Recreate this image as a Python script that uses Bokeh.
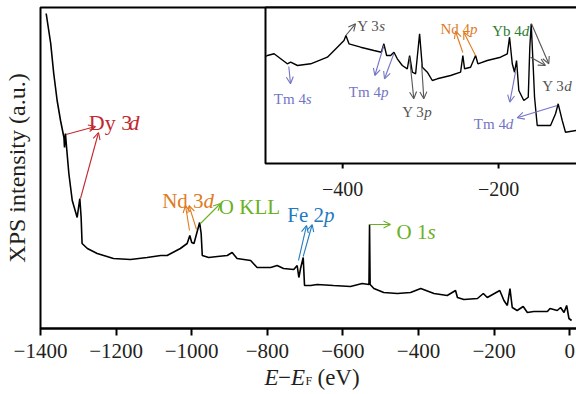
from bokeh.plotting import figure
from bokeh.models import Range1d, FixedTicker, Label, Arrow, OpenHead
from bokeh.core.properties import value
from bokeh.embed import file_html
from bokeh.resources import INLINE

# ---------------- data ----------------
# main survey spectrum: binding energy E-EF (eV) and intensity (a.u.)
main_ev = [-1385, -1373, -1365, -1356, -1347, -1338, -1336.5, -1334, -1331, -1325,
           -1316, -1303, -1296, -1292.5, -1290, -1276, -1250, -1207, -1162, -1118,
           -1082, -1065, -1030, -1012, -1005, -1000, -994, -979, -975, -972,
           -955, -932, -906, -893, -880, -844, -827, -791, -774, -757,
           -730, -721, -716.5, -712, -705, -701.5, -685, -668, -625, -580,
           -549, -531, -529.5, -528, -518, -492, -456, -421, -394, -359,
           -324, -302, -297, -280, -244, -228.5, -218, -185, -174, -165,
           -158, -152, -139, -123, -112, -95, -59, -52, -33, -24,
           -15, -8, -2, 5]
main_int = [315, 285, 255, 228, 208, 191, 181, 195, 181, 155,
            128, 111, 130, 111, 85, 80, 75, 70, 69, 71,
            73, 73, 80, 85, 93, 86, 85, 106, 95, 73,
            71, 72, 73, 76, 70, 68, 61, 61, 63, 60,
            59, 63, 51, 60, 71, 43, 43, 44, 43, 42,
            45, 44, 104, 44, 40, 36, 35, 36, 40, 35,
            33, 38, 31, 29, 30, 35, 31, 38, 28, 23,
            40, 21, 18, 22, 16, 17, 17, 20, 18, 21,
            16, 23, 10, 8]

# inset (zoom on -500 ... -100 eV)
inset_ev = [-499, -496.5, -488, -479.5, -471, -466.7, -458, -441, -419.6, -406.8,
            -398.3, -395.8, -391.9, -376.9, -359.9, -350.4, -347.1, -343.6, -338.5, -334.2,
            -329.9, -323.5, -317.1, -314.1, -310.6, -306.4, -301.3, -297.8, -291.4, -285,
            -278.6, -261.5, -248.7, -245.8, -243.6, -235.9, -229.5, -226.5, -214.5, -197.4,
            -188.8, -185.9, -182.4, -179.5, -176.9, -174, -167.6, -161.9, -159.9, -158.1,
            -155.5, -153.8, -150.4, -133.3, -126.9, -123.5, -118.3, -114.1, -100]
inset_int = [107, 108, 109.7, 104.7, 99.7, 101.3, 98, 99.7, 106.3, 116.3,
             123, 128, 119.7, 116.3, 113, 111.3, 119.7, 108, 108, 111.3,
             104.7, 98, 94.7, 108, 91.3, 89.7, 129.7, 96.3, 91.3, 83,
             84.7, 88, 91.3, 108, 94.7, 96.3, 108, 99.7, 103, 106.3,
             109.7, 126.3, 99.7, 91.3, 103, 73, 63, 66.3, 116.3, 139.7,
             96.3, 66.3, 38, 38, 49.7, 59.7, 43, 31.3, 33]

main_ticks = [-1400, -1200, -1000, -800, -600, -400, -200, 0]
main_tick_labels = ["\u22121400", "\u22121200", "\u22121000", "\u2212800",
                    "\u2212600", "\u2212400", "\u2212200", "0"]
inset_ticks = [-400, -200]
inset_tick_labels = ["\u2212400", "\u2212200"]

# ---------------- layout constants ----------------
W, H = 576, 394
PL, PT = 40, 7            # plot box left / top (px)
PB = 328                  # plot box bottom (px) = x-axis position
X0, X1 = -1400, 18        # data x at px 40 and px 576
Y0, Y1 = 0, 321           # data y at px 328 and px 7
CT = 5                    # canvas frame top (px)
IL, IT, IB = 265, 7, 163  # inset box (px)
IX0, IX1 = -499, -100     # inset x limits (eV) at px 265 and px 576
IY0, IY1 = 0, IB - IT

SERIF = "Liberation Serif"
DY = "#c1272d"
ND = "#e07b1f"
OG = "#6ab023"
FE = "#1f7bbf"
TM = "#7474c4"
YG = "#555555"
YB = "#2e7d32"
XT = "#231f20"

def mx(px):
    return X0 + (px - PL) * (X1 - X0) / (W - PL)

def my(py):
    return Y0 + (PB - py) * (Y1 - Y0) / (PB - PT)

kx = (W - IL) / (IX1 - IX0)   # px per eV in the inset

def ix(px):
    return IX0 + (px - IL) / kx

def iy(py):
    return IB - py

p = figure(width=W, height=H, output_backend="svg", toolbar_location=None,
           x_range=Range1d(mx(0), mx(W)), y_range=Range1d(my(H), my(CT)),
           min_border_left=0, min_border_right=0,
           min_border_top=CT, min_border_bottom=0)
p.extra_x_ranges = {"ix": Range1d(ix(0), ix(W))}
p.extra_y_ranges = {"iy": Range1d(iy(H), iy(CT))}

p.xgrid.visible = False
p.ygrid.visible = False
p.yaxis.visible = False
p.outline_line_color = None
p.background_fill_color = "white"
p.border_fill_color = "white"

xa = p.xaxis[0]
xa.fixed_location = Y0
xa.bounds = (X0, X1)
xa.ticker = FixedTicker(ticks=main_ticks)
xa.major_label_overrides = {t: s for t, s in zip(main_ticks, main_tick_labels)}
xa.major_tick_in = 0
xa.major_tick_out = 7
xa.major_tick_line_width = 2
xa.minor_tick_line_color = None
xa.axis_line_width = 2
xa.major_label_text_font = SERIF
xa.major_label_text_font_size = "21px"
xa.major_label_text_color = XT
xa.major_label_standoff = 8

# main spectrum and plot box
p.line(main_ev, main_int, line_color="black", line_width=1.6)
p.quad(left=X0, right=X1 + 10, bottom=Y0, top=Y1, fill_color=None,
       line_color="black", line_width=2)

# inset box, spectrum, ticks
p.quad(left=IX0, right=IX1 + 5, bottom=IY0, top=IY1, fill_color="white",
       line_color="black", line_width=2, x_range_name="ix", y_range_name="iy")
p.line(inset_ev, inset_int, line_color="black", line_width=1.4,
       x_range_name="ix", y_range_name="iy")
p.segment(x0=inset_ticks, y0=[IY0] * len(inset_ticks), x1=inset_ticks,
          y1=[IY0 - 5] * len(inset_ticks), line_color="black", line_width=2,
          x_range_name="ix", y_range_name="iy")
p.text(x=inset_ticks, y=[iy(188.5)] * len(inset_ticks), text=inset_tick_labels,
       text_font=value(SERIF), text_font_size="20px", text_color=XT,
       text_align="center", text_baseline="alphabetic",
       x_range_name="ix", y_range_name="iy")


def label(x, y, text, color, size, italic=False, rn=None, angle=0, align="left"):
    kw = {}
    if rn:
        kw = dict(x_range_name="ix", y_range_name="iy")
    p.add_layout(Label(x=x, y=y, text=text, text_color=color, text_font=SERIF,
                       text_font_size=size, text_align=align,
                       text_baseline="alphabetic", angle=angle, angle_units="deg",
                       text_font_style="italic" if italic else "normal", **kw))


def arrow(x0, y0, x1, y1, color, rn=None):
    kw = {}
    if rn:
        kw = dict(x_range_name="ix", y_range_name="iy")
    p.add_layout(Arrow(x_start=x0, y_start=y0, x_end=x1, y_end=y1,
                       line_color=color, line_width=1.1,
                       end=OpenHead(size=7, line_color=color, line_width=1.1), **kw))


# main annotations (pixel positions converted to data)
M = "21px"
label(mx(88.3), my(121.7), "Dy 3", DY, "22px")
label(mx(128), my(121.7), "d", DY, "22px", italic=True)
arrow(mx(65.5), my(134), mx(95), my(126), DY)
arrow(mx(80), my(198), mx(98), my(132), DY)

label(mx(161.7), my(200), "Nd 3", ND, M)
label(mx(203), my(200), "d", ND, M, italic=True)
arrow(mx(189), my(230), mx(185), my(205), ND)
arrow(mx(196), my(229), mx(188.5), my(205), ND)

label(mx(218.3), my(206.7), "O KLL", OG, M)
arrow(mx(200), my(223), mx(220), my(203), OG)

label(mx(286.7), my(214), "Fe 2", FE, M)
label(mx(323.5), my(214), "p", FE, M, italic=True)
arrow(mx(298), my(260), mx(306), my(225), FE)
arrow(mx(302.7), my(256), mx(311.7), my(224), FE)

label(mx(396), my(231.7), "O 1", OG, M)
label(mx(427), my(231.7), "s", OG, M, italic=True)
arrow(mx(369), my(224), mx(390), my(224), OG)

# inset annotations
S = "15px"
label(ix(356.7), iy(25), "Y 3", YG, S, rn=1)
label(ix(378.7), iy(25), "s", YG, S, italic=True, rn=1)
arrow(ix(345.3), iy(35), ix(355), iy(23.3), YG, rn=1)

label(ix(273.3), iy(98.3), "Tm 4", TM, S, rn=1)
label(ix(305.3), iy(98.3), "s", TM, S, italic=True, rn=1)
arrow(ix(288.3), iy(66), ix(290), iy(83.3), TM, rn=1)

label(ix(348.3), iy(91.7), "Tm 4", TM, S, rn=1)
label(ix(380.4), iy(91.7), "p", TM, S, italic=True, rn=1)
arrow(ix(383.3), iy(45), ix(374.3), iy(75), TM, rn=1)
arrow(ix(393.3), iy(53.3), ix(384), iy(78.3), TM, rn=1)

label(ix(401.7), iy(111.7), "Y 3", YG, S, rn=1)
label(ix(423.7), iy(111.7), "p", YG, S, italic=True, rn=1)
arrow(ix(409), iy(57), ix(413.3), iy(98.3), YG, rn=1)
arrow(ix(421), iy(62), ix(423.3), iy(98.3), YG, rn=1)

label(ix(440), iy(28.3), "Nd 4", ND, S, rn=1)
label(ix(469.6), iy(28.3), "p", ND, S, italic=True, rn=1)
arrow(ix(462.3), iy(52), ix(455), iy(30.7), ND, rn=1)
arrow(ix(475), iy(55), ix(463.3), iy(31.7), ND, rn=1)

label(ix(491.7), iy(30), "Yb 4", YB, S, rn=1)
label(ix(521.3), iy(30), "d", YB, S, italic=True, rn=1)

label(ix(541.7), iy(85), "Y 3", YG, S, rn=1)
label(ix(563.7), iy(85), "d", YG, S, italic=True, rn=1)
arrow(ix(531), iy(23.3), ix(548.3), iy(63.3), YG, rn=1)
arrow(ix(530), iy(56.7), ix(545), iy(65), YG, rn=1)

label(ix(473.3), iy(123.3), "Tm 4", TM, S, rn=1)
label(ix(505.3), iy(123.3), "d", TM, S, italic=True, rn=1)
arrow(ix(515), iy(71.7), ix(509.3), iy(101.7), TM, rn=1)
arrow(ix(556.7), iy(105), ix(516.7), iy(117.3), TM, rn=1)

# axis titles
label(mx(264), my(377), "E", XT, "23px", italic=True)
label(mx(277.5), my(377), "\u2212", XT, "23px")
label(mx(290.5), my(377), "E", XT, "23px", italic=True)
label(mx(305), my(380), "F", XT, "12px")
label(mx(317), my(377), "(eV)", XT, "23px")
label(mx(16), my(167.5), "XPS intensity (a.u.)", XT, "24px", angle=90, align="center")

open("out.html", "w").write(file_html(p, INLINE))
